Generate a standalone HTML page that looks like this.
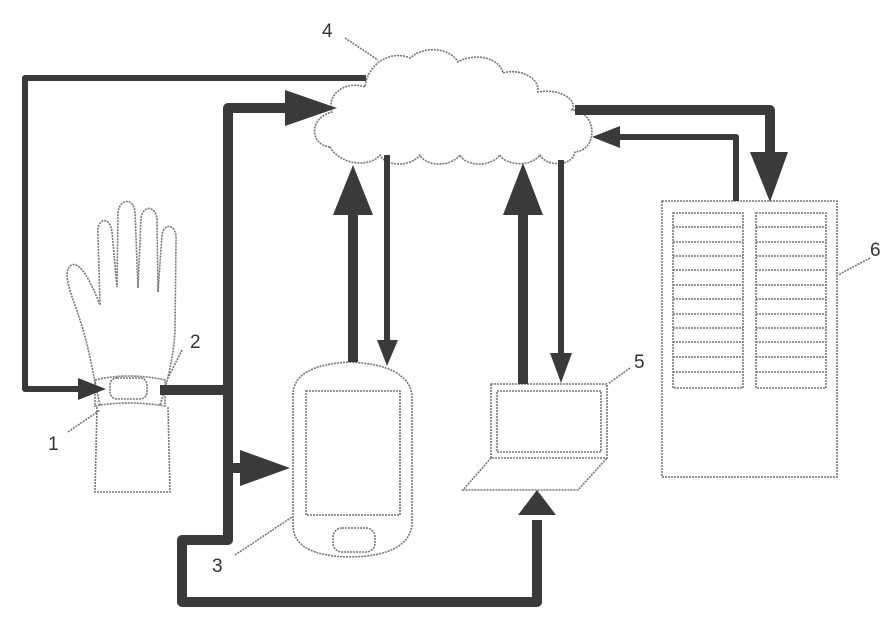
<!DOCTYPE html>
<html><head><meta charset="utf-8"><style>
html,body{margin:0;padding:0;background:#fff;}
svg{display:block;}
text{font-family:"Liberation Sans",sans-serif;font-size:19px;fill:#333;}
</style></head><body>
<svg width="888" height="626" viewBox="0 0 888 626" xmlns="http://www.w3.org/2000/svg">
<g fill="none" stroke="#777" stroke-width="1.6" stroke-dasharray="2 1">
 <!-- cloud -->
 <path d="M330,147 C310,145 308,118 332,112 C326,95 345,80 365,87 C368,62 392,50 410,58 C425,45 450,48 458,62 C475,52 500,58 503,73 C520,68 540,78 538,92 C560,88 578,100 572,110 C598,112 598,150 575,152 C572,168 545,166 540,155 C530,168 505,165 500,155 C490,168 465,166 460,155 C450,168 425,166 420,155 C410,168 385,166 380,155 C370,168 340,165 330,147 Z"/>
 <!-- hand -->
 <path d="M100,405 C95,385 90,350 80,320 C72,295 62,275 70,266 C80,258 92,285 100,305 L98,235 C96,218 110,215 112,232 L117,287 L118,212 C120,198 134,198 135,212 L138,288 L141,218 C143,205 156,205 157,220 L158,292 L162,235 C164,222 177,224 176,240 L175,330 C174,355 168,380 160,405"/>
 <path d="M97,407 L95,492 L170,492 L168,407"/>
 <path d="M95,380 Q128,372 165,380 L165,406 Q128,400 95,406 Z"/>
 <rect x="110" y="378" width="37" height="21" rx="7"/>
 <!-- phone -->
 <path d="M293,395 Q293,365 350,362 Q408,365 412,395 L412,525 Q408,556 350,557 Q293,556 293,525 Z"/>
 <rect x="306" y="391" width="94" height="124"/>
 <rect x="333" y="528" width="42" height="24" rx="9"/>
 <!-- laptop -->
 <rect x="491" y="384" width="116" height="74"/>
 <rect x="497" y="391" width="104" height="61"/>
 <path d="M491,458 L463,490 L578,490 L607,458"/>
 <!-- server -->
 <rect x="662" y="201" width="175" height="276"/>
 <rect x="673" y="213" width="70" height="175"/>
 <rect x="756" y="213" width="70" height="175"/>
 <path d="M673,227h70M673,242h70M673,256h70M673,270h70M673,285h70M673,299h70M673,314h70M673,328h70M673,342h70M673,357h70M673,372h70
          M756,227h70M756,242h70M756,256h70M756,270h70M756,285h70M756,299h70M756,314h70M756,328h70M756,342h70M756,357h70M756,372h70"/>
 <!-- leader lines -->
 <path d="M345,38 L378,60 M68,432 L100,410 M182,350 L168,378 M235,555 L292,517 M630,368 L608,384 M870,258 L838,275"/>
</g>
<g fill="none" stroke="#3a3a3a" stroke-linejoin="round">
 <path stroke-width="6" d="M366,78 H25 V389 H82"/>
 <path stroke-width="10" d="M160,390 H228 M290,108 H228 V540 H182 V602 H537 V520 M228,468 H246"/>
 <path stroke-width="10" d="M353,362 V210 M523,384 V210"/>
 <path stroke-width="6" d="M387,155 V345 M561,160 V358"/>
 <path stroke-width="10" d="M575,110 H770 V160"/>
 <path stroke-width="6" d="M736,201 V137 H615"/>
</g>
<g fill="#3a3a3a">
 <polygon points="78,378 106,389 78,400"/>
 <polygon points="285,90 337,108 285,126"/>
 <polygon points="240,450 290,468 240,486"/>
 <polygon points="518,515 537,490 556,515"/>
 <polygon points="333,215 353,165 373,215"/>
 <polygon points="503,215 523,163 543,215"/>
 <polygon points="377,340 387,366 398,340"/>
 <polygon points="550,353 561,383 572,353"/>
 <polygon points="750,152 770,202 788,152"/>
 <polygon points="620,126 592,137 620,148"/>
</g>
<text x="322" y="37">4</text>
<text x="48" y="450">1</text>
<text x="190" y="348">2</text>
<text x="212" y="572">3</text>
<text x="634" y="368">5</text>
<text x="870" y="256">6</text>
</svg>
</body></html>
